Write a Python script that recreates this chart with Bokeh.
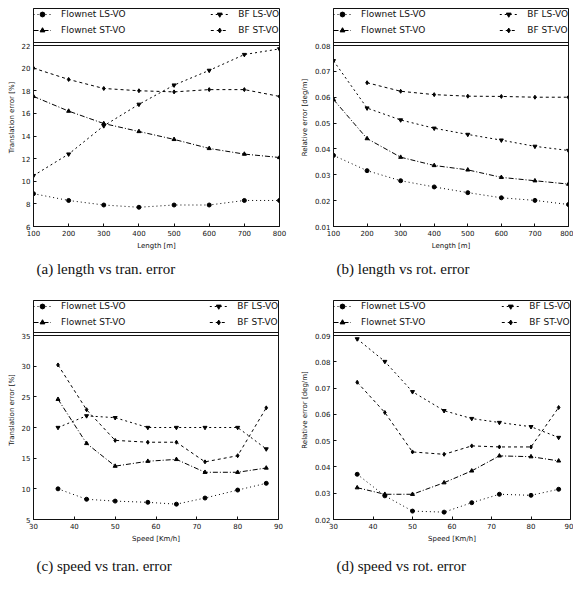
from bokeh.plotting import figure
from bokeh.layouts import column, row
from bokeh.models import Legend, LegendItem, FixedTicker, Span, Title, Range1d
from bokeh.embed import file_html
from bokeh.resources import INLINE

nan = float("nan")

# ---- x positions -------------------------------------------------------
lengths = [100, 200, 300, 400, 500, 600, 700, 800]          # [m]
speeds = [36, 43, 50, 58, 65, 72, 80, 87]                   # [Km/h]

# ---- (a) translation error vs length [%] -------------------------------
len_tran_flownet_ls = [8.9, 8.3, 7.9, 7.7, 7.9, 7.9, 8.3, 8.3]
len_tran_flownet_st = [17.5, 16.2, 15.1, 14.4, 13.7, 12.9, 12.4, 12.1]
len_tran_bf_ls = [10.5, 12.4, 14.9, 16.8, 18.5, 19.8, 21.2, 21.7]
len_tran_bf_st = [20.0, 19.0, 18.2, 18.0, 17.9, 18.1, 18.1, 17.5]

# ---- (b) rotation error vs length [deg/m] ------------------------------
len_rot_flownet_ls = [0.0375, 0.0316, 0.0277, 0.0253, 0.0231, 0.0211, 0.0201, 0.0185]
len_rot_flownet_st = [0.0591, 0.0440, 0.0368, 0.0336, 0.0319, 0.0290, 0.0277, 0.0264]
len_rot_bf_ls = [0.0741, 0.0558, 0.0512, 0.0480, 0.0456, 0.0434, 0.0410, 0.0394]
len_rot_bf_st = [nan, 0.0656, 0.0623, 0.0610, 0.0604, 0.0603, 0.0600, 0.0600]

# ---- (c) translation error vs speed [%] --------------------------------
spd_tran_flownet_ls = [10.0, 8.3, 8.0, 7.8, 7.5, 8.5, 9.8, 10.9]
spd_tran_flownet_st = [24.6, 17.4, 13.7, 14.5, 14.8, 12.7, 12.7, 13.4]
spd_tran_bf_ls = [20.0, 21.9, 21.6, 20.0, 20.0, 20.0, 20.0, 16.5]
spd_tran_bf_st = [30.2, 22.9, 17.9, 17.6, 17.6, 14.4, 15.4, 23.2]

# ---- (d) rotation error vs speed [deg/m] -------------------------------
spd_rot_flownet_ls = [0.0372, 0.0290, 0.0232, 0.0228, 0.0264, 0.0296, 0.0292, 0.0315]
spd_rot_flownet_st = [0.0321, 0.0296, 0.0296, 0.0340, 0.0385, 0.0442, 0.0439, 0.0423]
spd_rot_bf_ls = [0.0887, 0.0801, 0.0686, 0.0614, 0.0584, 0.0569, 0.0553, 0.0512]
spd_rot_bf_st = [0.0722, 0.0607, 0.0457, 0.0448, 0.0480, 0.0476, 0.0476, 0.0626]

# ---- ticks -------------------------------------------------------------
length_ticks = [100, 200, 300, 400, 500, 600, 700, 800]
speed_ticks = [30, 40, 50, 60, 70, 80, 90]
len_tran_ticks = [6, 8, 10, 12, 14, 16, 18, 20, 22]
len_rot_ticks = [0.01, 0.02, 0.03, 0.04, 0.05, 0.06, 0.07, 0.08]
spd_tran_ticks = [5, 10, 15, 20, 25, 30, 35]
spd_rot_ticks = [0.02, 0.03, 0.04, 0.05, 0.06, 0.07, 0.08, 0.09]

series_names = ["Flownet LS-VO", "Flownet ST-VO", "BF LS-VO", "BF ST-VO"]
series_styles = [
    dict(dash="1 3", marker="circle"),
    dict(dash="5 2 1 2", marker="triangle"),
    dict(dash="2 3", marker="inverted_triangle"),
    dict(dash="3 3", marker="diamond"),
]

SANS = "DejaVu Sans"
SERIF = "Liberation Serif"


def make_panel(xs, ys_list, x_ticks, y_ticks, x_label, y_label, caption,
               width, height, left, right, top, bottom, legend_px, cap_gap):
    frame_h = height - top - bottom
    y0, y1 = y_ticks[0], y_ticks[-1]
    data_px = frame_h - legend_px
    # extra room above the data for the legend box
    y_top = y1 + (y1 - y0) * legend_px / data_px

    p = figure(width=width, height=height, output_backend="svg",
               toolbar_location=None,
               x_range=Range1d(x_ticks[0], x_ticks[-1]),
               y_range=Range1d(y0, y_top),
               min_border_left=left, min_border_right=right,
               min_border_top=top, min_border_bottom=bottom)
    p.xgrid.visible = False
    p.ygrid.visible = False
    p.outline_line_color = "#111111"
    p.outline_line_width = 1
    p.background_fill_color = "white"
    p.border_fill_color = "white"

    for ax, ticks in ((p.xaxis[0], x_ticks), (p.yaxis[0], y_ticks)):
        ax.ticker = FixedTicker(ticks=ticks)
        ax.major_tick_in = 3
        ax.major_tick_out = 0
        ax.minor_tick_line_color = None
        ax.major_label_standoff = 3
        ax.major_label_text_font = SANS
        ax.major_label_text_font_size = "7px"
        ax.major_label_text_color = "#111111"
        ax.axis_label_text_font = SANS
        ax.axis_label_text_font_size = "7px"
        ax.axis_label_text_font_style = "normal"
        ax.axis_label_text_color = "#111111"
        ax.axis_label_standoff = 3
        ax.axis_line_color = "#111111"
        ax.major_tick_line_color = "#111111"
    p.xaxis.axis_label = x_label
    p.yaxis.axis_label = y_label

    # top edge of the plotting box, just under the legend box
    p.add_layout(Span(location=y1, dimension="width", line_color="#111111", line_width=1))
    p.add_layout(Span(location=y1 + (y1 - y0) * 3 / data_px, dimension="width",
                      line_color="#111111", line_width=1))

    items = []
    for name, style, ys in zip(series_names, series_styles, ys_list):
        ln = p.line(xs, ys, line_color="black", line_width=1, line_dash=style["dash"])
        sc = p.scatter(xs, ys, marker=style["marker"], size=4,
                       fill_color="black", line_color="black")
        items.append(LegendItem(label=name, renderers=[ln, sc]))

    for loc, its in (("top_left", items[:2]), ("top_right", items[2:])):
        lg = Legend(items=its, location=loc, margin=0, padding=6, spacing=4,
                    glyph_width=18, glyph_height=12, label_height=12,
                    label_standoff=10, border_line_color=None,
                    background_fill_alpha=0,
                    label_text_font=SANS, label_text_font_size="9px",
                    label_text_color="#111111")
        p.add_layout(lg, "center")

    p.add_layout(Title(text=caption, align="left", offset=3, standoff=cap_gap,
                       text_font=SERIF, text_font_size="15px",
                       text_font_style="normal", text_color="#111111"), "below")
    return p


pa = make_panel(lengths, [len_tran_flownet_ls, len_tran_flownet_st, len_tran_bf_ls, len_tran_bf_st],
                length_ticks, len_tran_ticks, "Length [m]", "Translation error [%]",
                "(a) length vs tran. error", 290, 290, 33, 11, 8, 64, 37, 12)
pb = make_panel(lengths, [len_rot_flownet_ls, len_rot_flownet_st, len_rot_bf_ls, len_rot_bf_st],
                length_ticks, len_rot_ticks, "Length [m]", "Relative error [deg/m]",
                "(b) length vs rot. error", 283, 290, 43, 5, 8, 64, 37, 12)
pc = make_panel(speeds, [spd_tran_flownet_ls, spd_tran_flownet_st, spd_tran_bf_ls, spd_tran_bf_st],
                speed_ticks, spd_tran_ticks, "Speed [Km/h]", "Translation error [%]",
                "(c) speed vs tran. error", 290, 299, 33, 12, 10, 70, 35, 20)
pd_ = make_panel(speeds, [spd_rot_flownet_ls, spd_rot_flownet_st, spd_rot_bf_ls, spd_rot_bf_st],
                 speed_ticks, spd_rot_ticks, "Speed [Km/h]", "Relative error [deg/m]",
                 "(d) speed vs rot. error", 283, 299, 43, 3, 10, 70, 35, 20)

layout = column(row(pa, pb, spacing=0), row(pc, pd_, spacing=0), spacing=0)

open("out.html", "w").write(file_html(layout, INLINE))
